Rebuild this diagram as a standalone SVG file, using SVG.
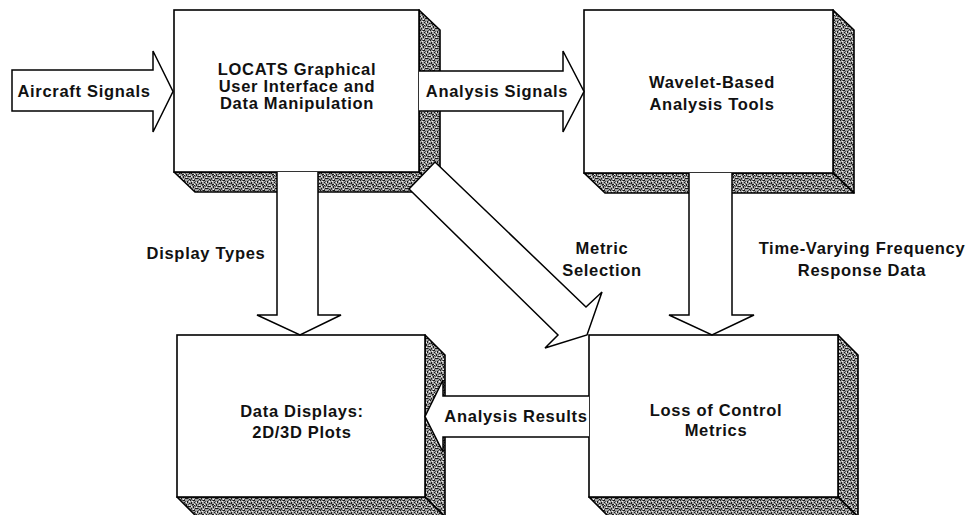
<svg xmlns="http://www.w3.org/2000/svg" width="969" height="515" viewBox="0 0 969 515">
<defs>
<pattern id="grain" width="10" height="10" patternUnits="userSpaceOnUse">
<rect width="10" height="10" fill="#a2a2a2"/>
<path fill="#1a1a1a" d="M0,0h1v1h-1z M3,0h2v1h-2z M7,1h1v2h-1z M1,2h1v2h-1z M4,2h1v1h-1z M9,3h1v1h-1z M2,4h2v1h-2z M6,4h1v2h-1z M0,6h1v1h-1z M3,6h1v2h-1z M8,6h2v1h-2z M1,8h1v1h-1z M5,8h2v1h-2z M9,9h1v1h-1z M4,5h1v1h-1z M7,8h1v1h-1z"/>
<path fill="#555" d="M2,0h1v1h-1z M8,0h1v1h-1z M5,1h1v1h-1z M0,3h1v1h-1z M5,3h1v1h-1z M8,4h1v1h-1z M2,5h1v1h-1z M7,6h1v1h-1z M5,6h1v1h-1z M0,9h2v1h-2z M4,9h1v1h-1z M8,8h1v1h-1z"/>
<path fill="#f4f4f4" d="M2,1h1v1h-1z M6,2h1v1h-1z M9,1h1v1h-1z M4,4h1v1h-1z M1,6h1v1h-1z M6,7h1v1h-1z M3,9h1v1h-1z M9,5h1v1h-1z"/>
</pattern>
</defs>
<style>
.face{fill:#fff;stroke:#000;stroke-width:1.6}
.shade{fill:url(#grain);stroke:#000;stroke-width:1.6;stroke-linejoin:round}
.arrow{fill:#fff;stroke:#000;stroke-width:1.5;stroke-linejoin:miter}
.t{font-family:"Liberation Sans",Arial,Helvetica,sans-serif;font-weight:bold;font-size:16.5px;letter-spacing:0.7px;fill:#111;text-anchor:middle}
</style>
<rect width="969" height="515" fill="#fff"/>

<g id="node-locats">
<polygon class="shade" points="419,10 440,30 440,192 419,172"/>
<polygon class="shade" points="174,172 419,172 440,192 195,192"/>
<rect class="face" x="174" y="10" width="245" height="162"/>
<text class="t" x="297" y="75">LOCATS Graphical</text>
<text class="t" x="297" y="92">User Interface and</text>
<text class="t" x="297" y="109">Data Manipulation</text>
</g>

<g id="node-wavelet">
<polygon class="shade" points="833,10 854,30 854,193 833,173"/>
<polygon class="shade" points="584,173 833,173 854,193 605,193"/>
<rect class="face" x="584" y="10" width="249" height="163"/>
<text class="t" x="712" y="88">Wavelet-Based</text>
<text class="t" x="712" y="110">Analysis Tools</text>
</g>

<g id="node-displays">
<polygon class="shade" points="425,335 445,355 445,517 425,497"/>
<polygon class="shade" points="177,497 425,497 445,517 197,517"/>
<rect class="face" x="177" y="335" width="248" height="162"/>
<text class="t" x="302" y="417">Data Displays:</text>
<text class="t" x="302" y="438">2D/3D Plots</text>
</g>

<g id="node-loss">
<polygon class="shade" points="838,335 858,355 858,517 838,497"/>
<polygon class="shade" points="589,497 838,497 858,517 609,517"/>
<rect class="face" x="589" y="335" width="249" height="162"/>
<text class="t" x="716" y="416">Loss of Control</text>
<text class="t" x="716" y="436">Metrics</text>
</g>

<g id="connectors">
<path class="arrow" d="M12,70 H153 V51 L173,91.5 L153,132 V111 H12 Z"/>
<path class="arrow" d="M419,71 H563 V51 L584,91.5 L563,132 V111 H419"/>
<path class="arrow" d="M277,172 V315 H257 L300,335 L341,315 H318 V172"/>
<path class="arrow" d="M689,173 V315 H669 L712,335 L754,315 H732 V173"/>
<path class="arrow" d="M589,396 H443 V380 L425,416.5 L443,452 V437 H589"/>
<polygon class="arrow" points="435,162 586,307 602,292 587,335 545,348 558,335 409,189"/>
<text class="t" x="84" y="97">Aircraft Signals</text>
<text class="t" x="497" y="97">Analysis Signals</text>
<text class="t" x="206" y="259">Display Types</text>
<text class="t" x="602" y="254">Metric</text>
<text class="t" x="602" y="276">Selection</text>
<text class="t" x="862" y="254">Time-Varying Frequency</text>
<text class="t" x="862" y="276">Response Data</text>
<text class="t" x="516" y="422">Analysis Results</text>
</g>
</svg>
